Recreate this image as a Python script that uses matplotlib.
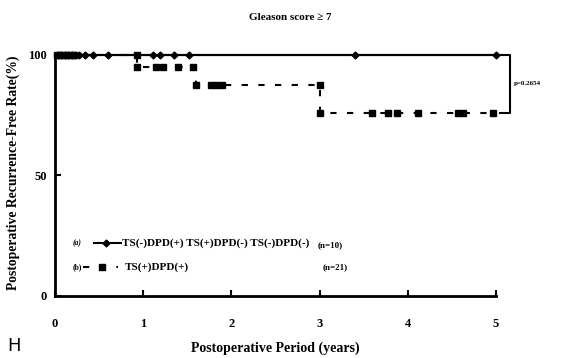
import matplotlib
matplotlib.use("Agg")
import matplotlib.pyplot as plt

# Kaplan-Meier style recurrence-free curves (years, %)
group_a_steps_t = [0.0, 5.0]
group_a_steps_s = [100, 100]
group_a_censor_t = [0.03, 0.07, 0.11, 0.15, 0.19, 0.23, 0.27, 0.34, 0.43, 0.6,
                    1.11, 1.19, 1.35, 1.52, 3.4, 5.0]

group_b_steps_t = [0.0, 0.93, 1.6, 3.0, 5.0]
group_b_steps_s = [100, 95, 87.5, 76, 76]
group_b_censor_t = [0.02, 0.06, 0.1, 0.14, 0.18, 0.22, 0.93,
                    0.93, 1.14, 1.22, 1.39, 1.56,
                    1.6, 1.77, 1.83, 1.89, 3.0,
                    3.0, 3.6, 3.78, 3.88, 4.12, 4.57, 4.63, 4.97]
group_b_censor_s = [100, 100, 100, 100, 100, 100, 100,
                    95, 95, 95, 95, 95,
                    87.5, 87.5, 87.5, 87.5, 87.5,
                    76, 76, 76, 76, 76, 76, 76, 76]

x_ticks = [0, 1, 2, 3, 4, 5]
y_ticks = [0, 50, 100]
p_value_text = "p=0.2654"
label_a = "TS(-)DPD(+) TS(+)DPD(-) TS(-)DPD(-)"
label_b = "TS(+)DPD(+)"
n_a = "(n=10)"
n_b = "(n=21)"

serif = ["Liberation Serif", "DejaVu Serif"]

fig = plt.figure(figsize=(5.71, 3.58), dpi=100)
ax = fig.add_axes([0.0963, 0.1732, 0.7723, 0.6732])
ax.set_xlim(0, 5)
ax.set_ylim(0, 100)

# group (b): dashed step curve with square censor marks
ax.step(group_b_steps_t, group_b_steps_s, where="post", color="black",
        lw=1.5, ls=(0, (3, 5)), clip_on=False)
ax.plot(group_b_censor_t, group_b_censor_s, ls="none", marker="s",
        ms=4.5, color="black", clip_on=False)

# group (a): solid line with diamond censor marks
ax.step(group_a_steps_t, group_a_steps_s, where="post", color="black",
        lw=1.6, clip_on=False)
ax.plot(group_a_censor_t, [100] * len(group_a_censor_t), ls="none",
        marker="D", ms=3.5, color="black", clip_on=False)

# spines and ticks
for side in ("top", "right"):
    ax.spines[side].set_visible(False)
for side in ("left", "bottom"):
    ax.spines[side].set_linewidth(2)
ax.set_xticks(x_ticks)
ax.set_yticks(y_ticks)
ax.tick_params(direction="in", length=4, width=1.5)
ax.tick_params(axis="x", pad=16)
ax.tick_params(axis="y", pad=6)
for lab in ax.get_xticklabels() + ax.get_yticklabels():
    lab.set_fontfamily(serif)
    lab.set_fontweight("bold")
    lab.set_fontsize(9)

ax.set_xlabel("Postoperative Period (years)", fontfamily=serif,
              fontweight="bold", fontsize=10, labelpad=8)
ax.set_ylabel("Postoperative Recurrence-Free Rate(%)", fontfamily=serif,
              fontweight="bold", fontsize=9.8)
ax.yaxis.set_label_coords(-0.079, 0.51)

fig.text(0.508, 0.952, "Gleason score \u2265 7", ha="center", va="center",
         fontfamily=serif, fontweight="bold", fontsize=8)

# bracket with p value
ax.plot([5.05, 5.16, 5.16, 5.05], [100, 100, 76, 76], color="black",
        lw=1.5, clip_on=False)
ax.text(5.2, 88, p_value_text, fontfamily=serif, fontweight="bold",
        fontsize=5, va="center", ha="left")

# in-plot legend
ax.text(0.2, 22, "(a)", fontfamily=serif, fontweight="bold", fontsize=5.5,
        va="center", style="italic")
ax.plot([0.44, 0.75], [22, 22], color="black", lw=1.5)
ax.plot([0.58], [22], marker="D", ms=3.5, color="black")
ax.text(0.76, 22, label_a, fontfamily=serif, fontweight="bold", fontsize=8,
        va="center")
ax.text(2.98, 21, n_a, fontfamily=serif, fontweight="bold", fontsize=6.5,
        va="center")

ax.text(0.2, 12, "(b)", fontfamily=serif, fontweight="bold", fontsize=5.5,
        va="center")
ax.plot([0.32, 0.72], [12, 12], color="black", lw=1.5, ls=(0, (3, 5)))
ax.plot([0.53], [12], marker="s", ms=4.5, color="black")
ax.text(0.79, 12, label_b, fontfamily=serif, fontweight="bold", fontsize=8,
        va="center")
ax.text(3.03, 12, n_b, fontfamily=serif, fontweight="bold", fontsize=6.5,
        va="center")

fig.text(0.012, 0.008, "H", fontsize=13, ha="left", va="bottom",
         fontfamily="DejaVu Sans")

fig.savefig("out.png", dpi=100)
